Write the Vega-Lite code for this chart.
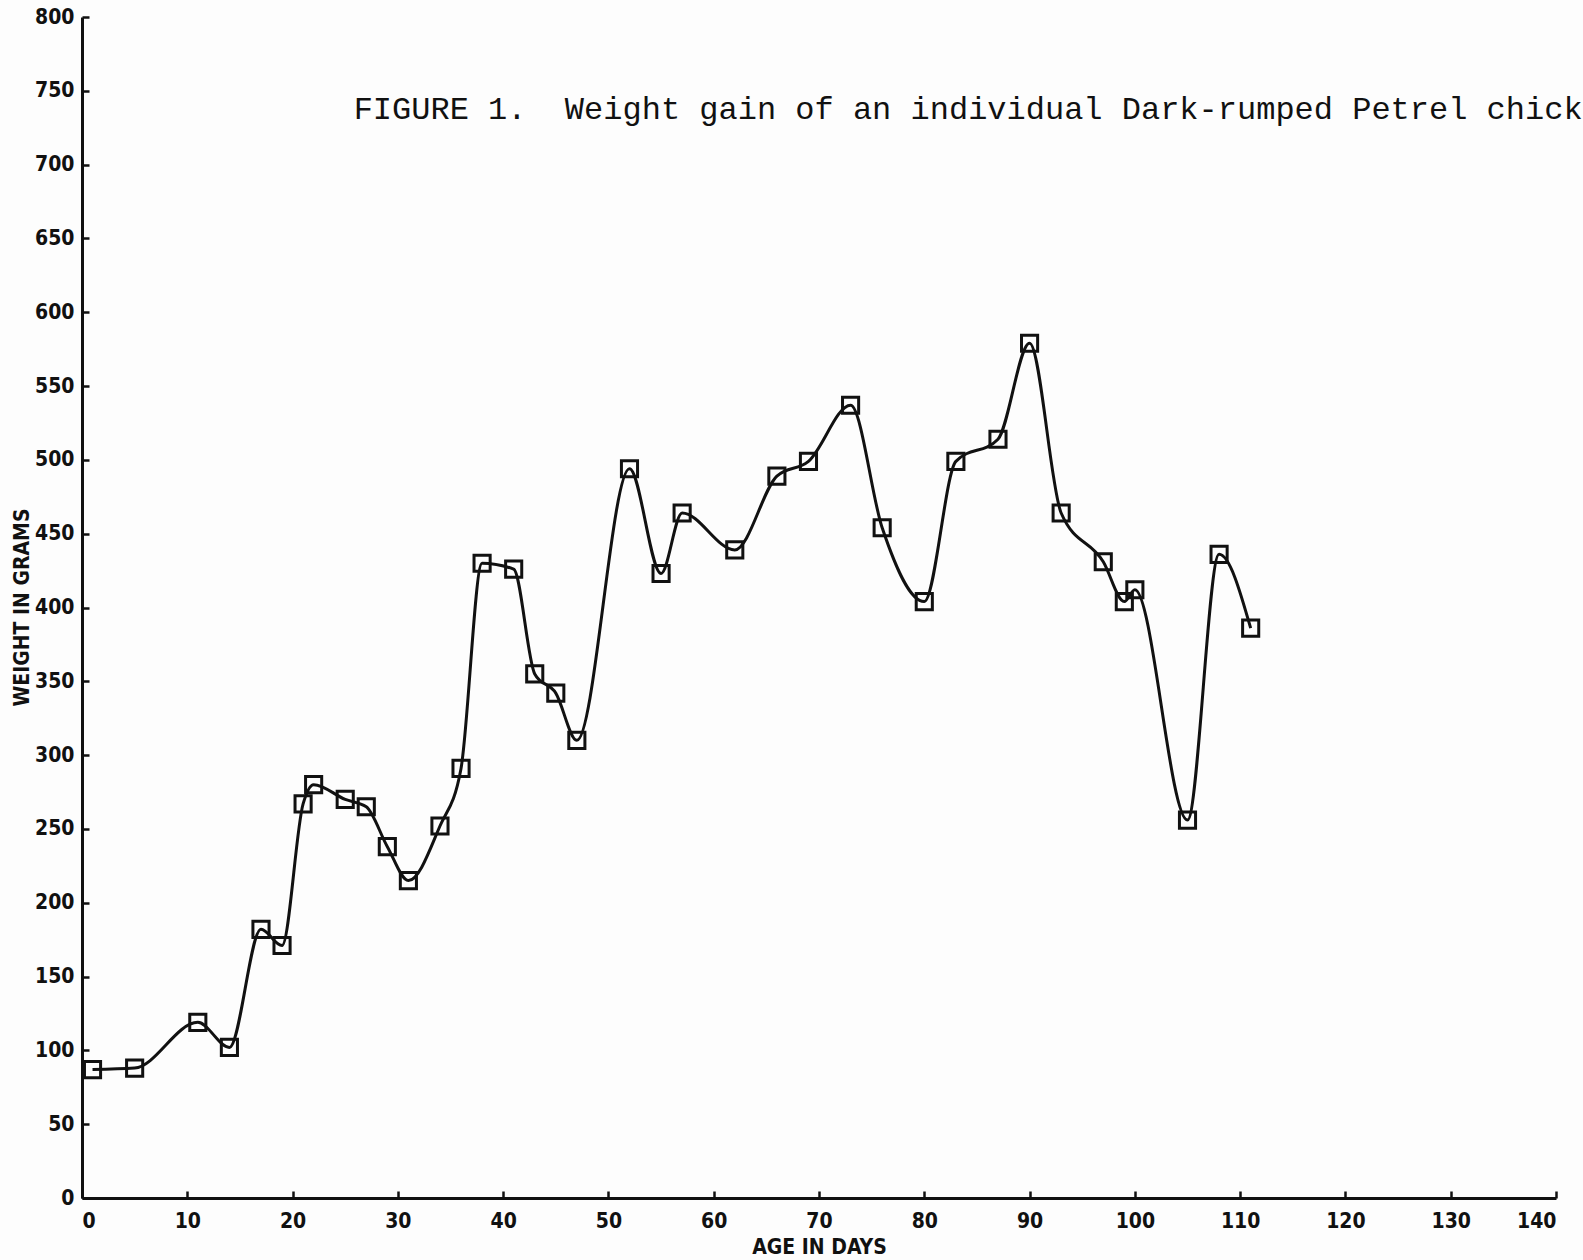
{
  "$schema": "https://vega.github.io/schema/vega-lite/v6.json",
  "width": 1474,
  "height": 1181,
  "autosize": {"type": "none"},
  "padding": {"left": 82, "top": 17, "right": 27, "bottom": 62},
  "background": "#fdfdfd",
  "config": {
    "view": {"stroke": null},
    "axis": {
      "grid": false,
      "domainColor": "#111111",
      "domainWidth": 3,
      "tickColor": "#111111",
      "tickWidth": 2.5,
      "labelFont": "Liberation Sans Narrow, DejaVu Sans Condensed, sans-serif",
      "labelFontWeight": "bold",
      "labelFontSize": 21,
      "labelColor": "#111111",
      "titleFont": "Liberation Sans Narrow, DejaVu Sans Condensed, sans-serif",
      "titleFontWeight": "bold",
      "titleFontSize": 21,
      "titleColor": "#111111"
    }
  },
  "datasets": {
    "weights": [
      {"day": 1, "weight": 87},
      {"day": 5, "weight": 88},
      {"day": 11, "weight": 119},
      {"day": 14, "weight": 102},
      {"day": 17, "weight": 182},
      {"day": 19, "weight": 171},
      {"day": 21, "weight": 267},
      {"day": 22, "weight": 280},
      {"day": 25, "weight": 270},
      {"day": 27, "weight": 265},
      {"day": 29, "weight": 238},
      {"day": 31, "weight": 215},
      {"day": 34, "weight": 252},
      {"day": 36, "weight": 291},
      {"day": 38, "weight": 430},
      {"day": 41, "weight": 426},
      {"day": 43, "weight": 355},
      {"day": 45, "weight": 342},
      {"day": 47, "weight": 310},
      {"day": 52, "weight": 494},
      {"day": 55, "weight": 423},
      {"day": 57, "weight": 464},
      {"day": 62, "weight": 439},
      {"day": 66, "weight": 489},
      {"day": 69, "weight": 499},
      {"day": 73, "weight": 537},
      {"day": 76, "weight": 454},
      {"day": 80, "weight": 404},
      {"day": 83, "weight": 499},
      {"day": 87, "weight": 514},
      {"day": 90, "weight": 579},
      {"day": 93, "weight": 464},
      {"day": 97, "weight": 431},
      {"day": 99, "weight": 404},
      {"day": 100, "weight": 412},
      {"day": 105, "weight": 256},
      {"day": 108, "weight": 436},
      {"day": 111, "weight": 386}
    ],
    "caption": [
      {"day": 25.8, "weight": 738, "text": "FIGURE 1.\u00a0\u00a0Weight gain of an individual Dark-rumped Petrel chick"}
    ]
  },
  "layer": [
    {
      "data": {"name": "weights"},
      "mark": {"type": "line", "interpolate": "monotone", "stroke": "#111111", "strokeWidth": 3},
      "encoding": {
        "x": {
          "field": "day", "type": "quantitative",
          "scale": {"domain": [0, 140], "nice": false, "zero": false},
          "axis": {"values": [0,10,20,30,40,50,60,70,80,90,100,110,120,130,140], "title": "AGE IN DAYS", "tickSize": -7, "labelPadding": 19, "titleX": 737, "titleY": 49, "titleAnchor": null, "titleAlign": "center", "titleBaseline": "middle"}
        },
        "y": {
          "field": "weight", "type": "quantitative",
          "scale": {"domain": [0, 800], "nice": false},
          "axis": {"values": [0,50,100,150,200,250,300,350,400,450,500,550,600,650,700,750,800], "title": "WEIGHT IN GRAMS", "tickSize": -7, "labelPadding": 15, "titleX": -60, "titleY": 590, "titleAngle": 270, "titleAlign": "center", "titleBaseline": "middle"}
        }
      }
    },
    {
      "data": {"name": "weights"},
      "mark": {"type": "point", "shape": "square", "filled": false, "stroke": "#111111", "strokeWidth": 3, "size": 260, "opacity": 1},
      "encoding": {
        "x": {"field": "day", "type": "quantitative"},
        "y": {"field": "weight", "type": "quantitative"}
      }
    },
    {
      "data": {"name": "caption"},
      "mark": {"type": "text", "align": "left", "baseline": "middle", "font": "Liberation Mono, DejaVu Sans Mono, monospace", "fontSize": 32, "fill": "#111111"},
      "encoding": {
        "x": {"field": "day", "type": "quantitative"},
        "y": {"field": "weight", "type": "quantitative"},
        "text": {"field": "text"}
      }
    }
  ]
}
